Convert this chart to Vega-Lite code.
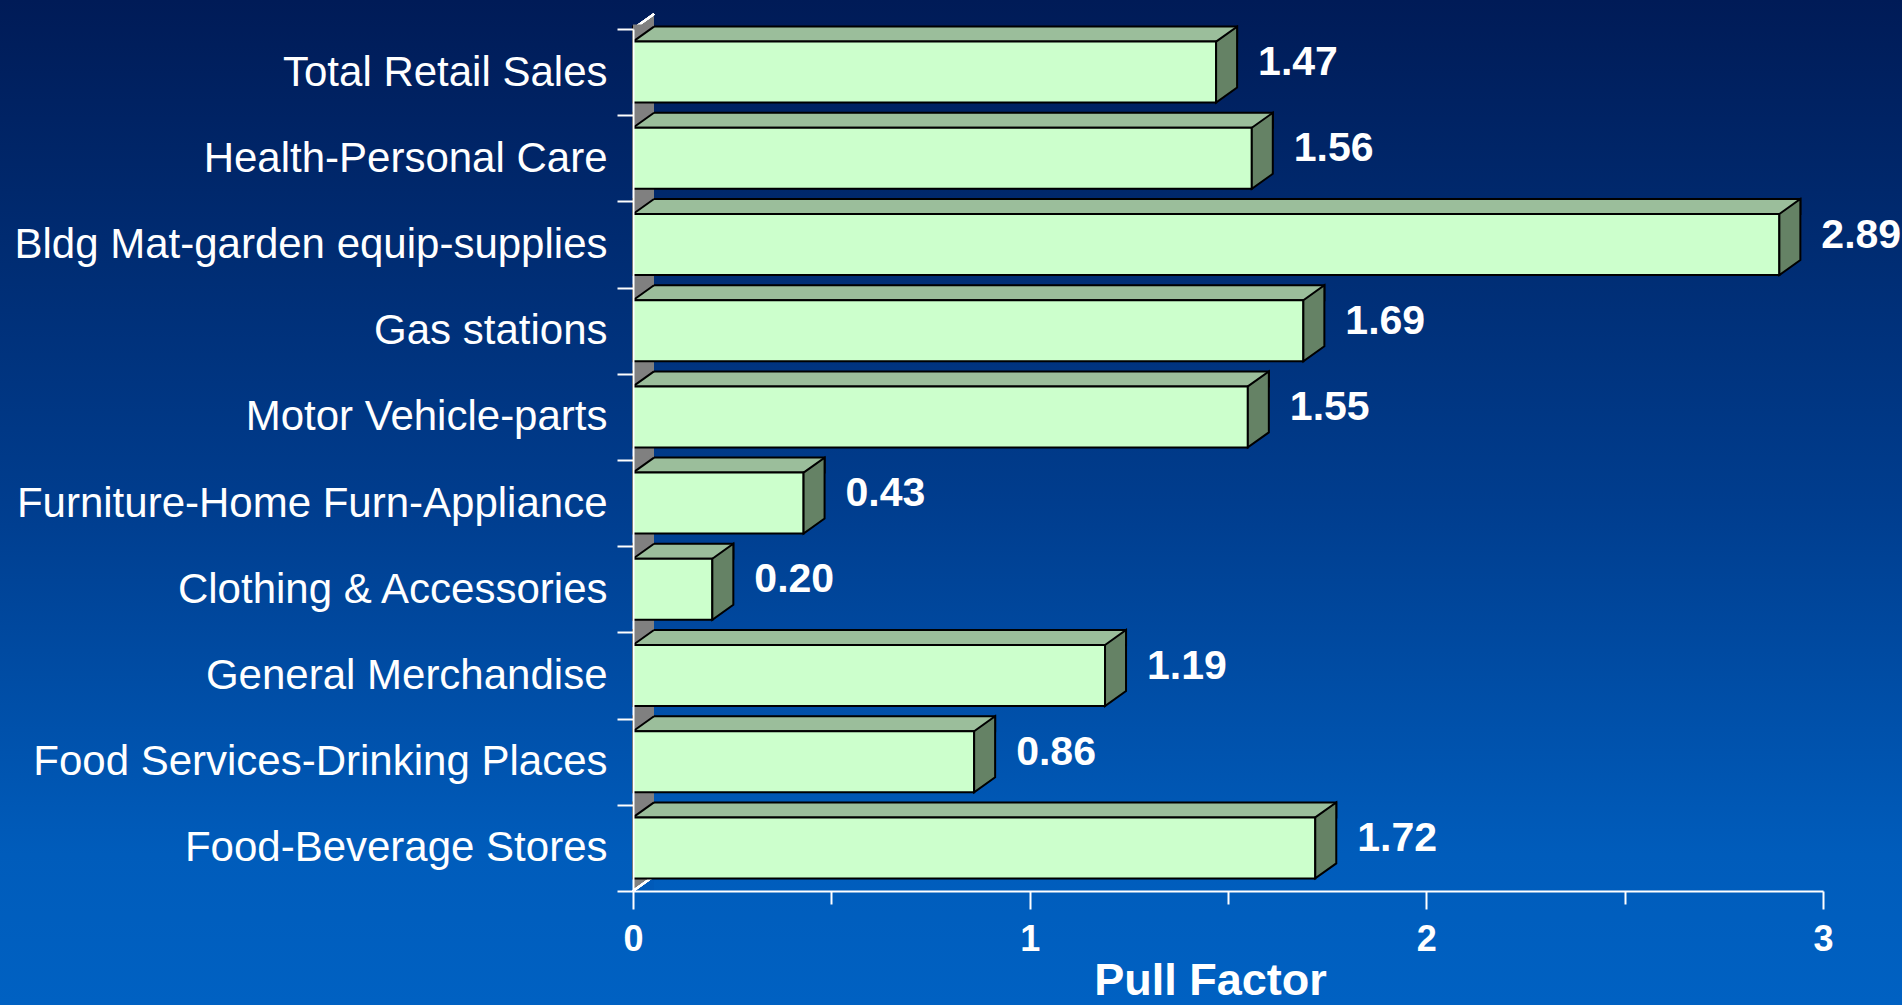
{
  "$schema": "https://vega.github.io/schema/vega-lite/v6.json",
  "width": 1902,
  "height": 1005,
  "autosize": {"type": "none"},
  "padding": 0,
  "background": "#003E8F",
  "config": {
    "view": {
      "stroke": null,
      "fill": {
        "gradient": "linear",
        "x1": 0, "y1": 0, "x2": 0, "y2": 1,
        "stops": [
          {"offset": 0, "color": "#001B57"},
          {"offset": 0.5, "color": "#003D8E"},
          {"offset": 0.85, "color": "#005CBB"},
          {"offset": 1, "color": "#0061C2"}
        ]
      }
    }
  },
  "data": {
    "values": [
      {"category": "Total Retail Sales", "pull": 1.47},
      {"category": "Health-Personal Care", "pull": 1.56},
      {"category": "Bldg Mat-garden equip-supplies", "pull": 2.89},
      {"category": "Gas stations", "pull": 1.69},
      {"category": "Motor Vehicle-parts", "pull": 1.55},
      {"category": "Furniture-Home Furn-Appliance", "pull": 0.43},
      {"category": "Clothing & Accessories", "pull": 0.20},
      {"category": "General Merchandise", "pull": 1.19},
      {"category": "Food Services-Drinking Places", "pull": 0.86},
      {"category": "Food-Beverage Stores", "pull": 1.72}
    ]
  },
  "encoding": {
    "y": {
      "field": "category",
      "type": "nominal",
      "sort": null,
      "scale": {"type": "band", "range": [29, 891], "paddingInner": 0, "paddingOuter": 0},
      "axis": {
        "title": null,
        "offset": -633,
        "zindex": 1,
        "domainColor": "white",
        "domainWidth": 2,
        "tickColor": "white",
        "tickWidth": 2,
        "tickSize": 16,
        "tickBand": "extent",
        "tickExtra": true,
        "labelColor": "white",
        "labelFont": "Liberation Sans",
        "labelFontSize": 42,
        "labelPadding": 10,
        "labelLimit": 900
      }
    }
  },
  "layer": [
    {
      "mark": {"type": "rect", "color": "#808080", "x2Offset": 21},
      "encoding": {
        "x": {"datum": 0, "type": "quantitative", "scale": {"domain": [0, 3], "range": [633, 1823], "nice": false},
          "axis": {
            "offset": -114,
            "zindex": 1,
            "values": [0, 0.5, 1, 1.5, 2, 2.5, 3],
            "domainColor": "white",
            "domainWidth": 2,
            "tickColor": "white",
            "tickWidth": 2,
            "tickSize": {"condition": {"test": "datum.value % 1 === 0", "value": 18}, "value": 13},
            "labelExpr": "datum.value % 1 === 0 ? format(datum.value, 'd') : ''",
            "labelColor": "white",
            "labelFont": "Liberation Sans",
            "labelFontWeight": "bold",
            "labelFontSize": 36,
            "labelPadding": 13,
            "labelFlush": false,
            "title": "Pull Factor",
            "titleX": 1210,
            "titleColor": "white",
            "titleFont": "Liberation Sans",
            "titleFontWeight": "bold",
            "titleFontSize": 45,
            "titlePadding": 1
          }
        },
        "x2": {"datum": 0}
      }
    },
    {
      "mark": {"type": "point", "shape": "M0,-43.1 L21,-58.1 L21,-43.1 Z", "size": 4, "filled": true, "fill": "#808080", "stroke": null, "opacity": 1},
      "encoding": {"x": {"datum": 0, "type": "quantitative"}, "y": {"datum": "Total Retail Sales"}}
    },
    {
      "mark": {"type": "point", "shape": "M0,-43.1 L21,-58.1", "size": 4, "filled": false, "fill": null, "stroke": "white", "strokeWidth": 2, "opacity": 1},
      "encoding": {"x": {"datum": 0, "type": "quantitative"}, "y": {"datum": "Total Retail Sales"}}
    },
    {
      "mark": {"type": "point", "shape": "M0,43.1 L21,43.1 L21,28.1 Z", "size": 4, "filled": true, "fill": "#005AB9", "stroke": null, "opacity": 1},
      "encoding": {"x": {"datum": 0, "type": "quantitative"}, "y": {"datum": "Food-Beverage Stores"}}
    },
    {
      "mark": {"type": "point", "shape": "M0,43.1 L21,28.1", "size": 4, "filled": false, "fill": null, "stroke": "white", "strokeWidth": 2, "opacity": 1},
      "encoding": {"x": {"datum": 0, "type": "quantitative"}, "y": {"datum": "Food-Beverage Stores"}}
    },
    {
      "mark": {"type": "bar", "fill": "#9BBE9B", "stroke": "black", "strokeWidth": 2, "height": 15, "yOffset": -38, "xOffset": 21},
      "encoding": {"x": {"field": "pull", "type": "quantitative"}, "x2": {"datum": 0}}
    },
    {
      "mark": {"type": "point", "shape": "M0,-30.5 L21,-45.5 L21,-47.5 L0,-47.5 Z", "size": 4, "filled": true, "fill": "#808080", "stroke": null, "opacity": 1},
      "encoding": {"x": {"datum": 0, "type": "quantitative"}}
    },
    {
      "mark": {"type": "point", "shape": "M0,-30.5 L21,-45.5", "size": 4, "filled": false, "fill": null, "stroke": "black", "strokeWidth": 2, "opacity": 1},
      "encoding": {"x": {"datum": 0, "type": "quantitative"}}
    },
    {
      "mark": {"type": "bar", "fill": "#CCFFCC", "stroke": "black", "strokeWidth": 2, "height": 61},
      "encoding": {"x": {"field": "pull", "type": "quantitative"}, "x2": {"datum": 0}}
    },
    {
      "mark": {"type": "point", "shape": "M0,-30.5 L21,-45.5 L21,15.5 L0,30.5 Z", "size": 4, "filled": true, "fill": "#658265", "stroke": "black", "strokeWidth": 2, "opacity": 1},
      "encoding": {"x": {"field": "pull", "type": "quantitative"}}
    },
    {
      "mark": {"type": "text", "align": "left", "baseline": "alphabetic", "dx": 42, "dy": 3, "color": "white", "font": "Liberation Sans", "fontWeight": "bold", "fontSize": 41},
      "encoding": {
        "x": {"field": "pull", "type": "quantitative"},
        "text": {"field": "pull", "type": "quantitative", "format": ".2f"}
      }
    }
  ]
}
